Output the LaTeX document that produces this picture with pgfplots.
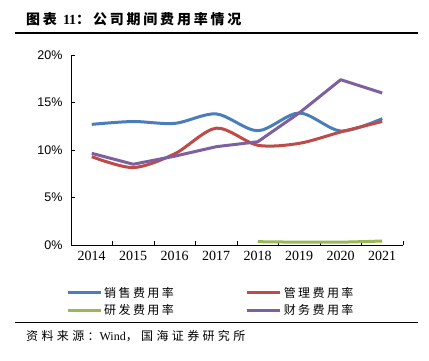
\documentclass[border=0pt]{standalone}
\usepackage{fontspec}
\setmainfont{Liberation Serif}
\newfontfamily\arial{Liberation Sans}
\newfontfamily\cjk{Noto Sans CJK SC}
\newfontfamily\cjklg[LetterSpace=20]{Noto Sans CJK SC}
\newfontfamily\cjksrc[LetterSpace=28]{Noto Sans CJK SC}
\newfontfamily\cjktitle[LetterSpace=20]{Noto Sans CJK SC}
\usepackage{pgfplots}
\pgfplotsset{compat=1.18}
\definecolor{cblue}{HTML}{4A7EBB}
\definecolor{cred}{HTML}{BE4B48}
\definecolor{cgreen}{HTML}{98B954}
\definecolor{cpurple}{HTML}{7D60A0}
\begin{document}
\begin{tikzpicture}[x=1pt,y=1pt]
\path[use as bounding box] (0,0) rectangle (429,-360);
\node[anchor=west,inner sep=0,font=\fontsize{14}{16}\selectfont] at (26,-19) {\cjktitle\bfseries 图表 {\rmfamily\bfseries 11}：公司期间费用率情况};
\draw[line width=2pt] (15,-33) -- (418,-33);
\draw[line width=1.3pt] (15,-322.5) -- (418,-322.5);
\node[anchor=west,inner sep=0,font=\fontsize{12}{14}\selectfont] at (26,-336) {\cjksrc 资料来源：{\rmfamily Wind}，国海证券研究所};
\begin{axis}[
  at={(71pt,-245pt)}, anchor=south west,
  width=332pt, height=190pt, scale only axis,
  xmin=-0.5, xmax=7.5, ymin=0, ymax=20,
  axis x line*=bottom, axis y line*=left,
  axis line style={-, black, line width=0.8pt},
  xtick={0,...,7},
  xticklabels={2014,2015,2016,2017,2018,2019,2020,2021},
  major x tick style={draw=none},
  minor xtick={-0.5,0.5,...,7.5},
  minor tick length=4pt,
  major tick length=4pt,
  minor x tick style={black, line width=0.6pt},
  ytick={0,5,10,15,20},
  yticklabels={0\%,5\%,10\%,15\%,20\%},
  ytick style={black, line width=0.6pt},
  yticklabel style={font=\arial\fontsize{12.5}{14}\selectfont, xshift=-5pt},
  xticklabel style={font=\rmfamily\fontsize{14}{16}\selectfont, yshift=-3pt},
  legend columns=2,
  legend cell align=left,
  legend style={at={(-0.015,-0.21)}, anchor=north west, draw=none, fill=none,
    inner sep=0pt, row sep=2pt,
    font=\cjklg\fontsize{12}{14}\selectfont,
    /tikz/every even column/.append style={column sep=70pt}},
  legend image code/.code={\draw[#1, line width=3pt] (0pt,0pt) -- (33pt,0pt);},
  every axis plot/.append style={line width=3pt},
]
\addplot[cblue, smooth, tension=0.5] coordinates {(0,12.7) (1,13.0) (2,12.8) (3,13.8) (4,12.03) (5,13.9) (6,12.0) (7,13.3)};
\addlegendentry{销售费用率}
\addplot[cred, smooth, tension=0.5] coordinates {(0,9.3) (1,8.15) (2,9.6) (3,12.3) (4,10.5) (5,10.7) (6,11.9) (7,13.0)};
\addlegendentry{管理费用率}
\addplot[cgreen, smooth, tension=0.5] coordinates {(4,0.35) (5,0.3) (6,0.3) (7,0.42)};
\addlegendentry{研发费用率}
\addplot[cpurple, line join=round] coordinates {(0,9.65) (1,8.5) (2,9.35) (3,10.35) (4,10.87) (5,13.9) (6,17.4) (7,16.0)};
\addlegendentry{财务费用率}
\end{axis}
\end{tikzpicture}
\end{document}
